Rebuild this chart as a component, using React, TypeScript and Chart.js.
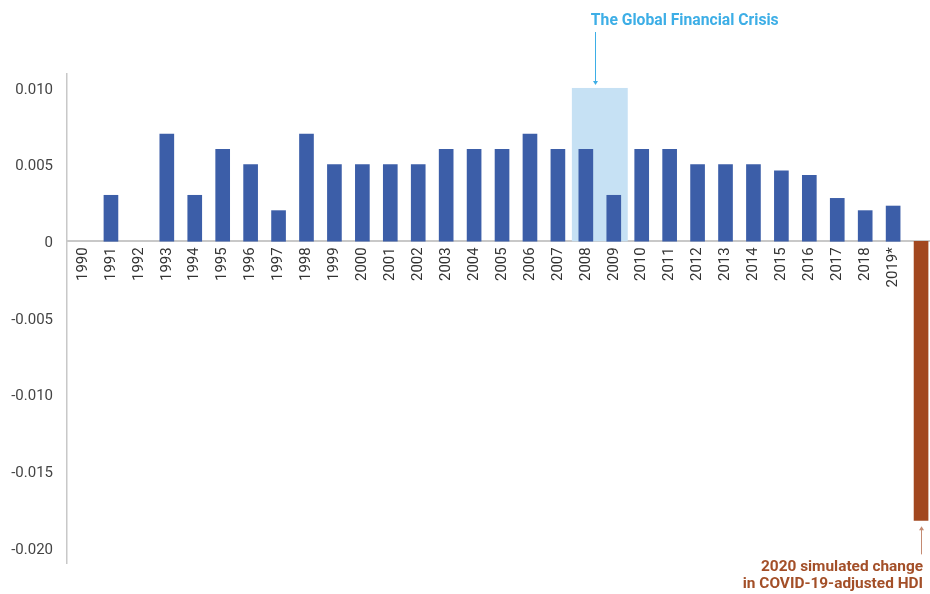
import React, { useEffect, useRef } from "react";
import { Chart, registerables } from "chart.js";

Chart.register(...registerables);

const YEARS: string[] = [
  "1990", "1991", "1992", "1993", "1994", "1995", "1996", "1997", "1998", "1999",
  "2000", "2001", "2002", "2003", "2004", "2005", "2006", "2007", "2008", "2009",
  "2010", "2011", "2012", "2013", "2014", "2015", "2016", "2017", "2018", "2019*", "2020",
];

const HDI_CHANGE: (number | null)[] = [
  null, 0.003, null, 0.007, 0.003, 0.006, 0.005, 0.002, 0.007, 0.005,
  0.005, 0.005, 0.005, 0.006, 0.006, 0.006, 0.007, 0.006, 0.006, 0.003,
  0.006, 0.006, 0.005, 0.005, 0.005, 0.0046, 0.0043, 0.0028, 0.002, 0.0023, -0.0182,
];

const Y_TICKS: number[] = [-0.02, -0.015, -0.01, -0.005, 0, 0.005, 0.01];
const Y_TICK_LABELS: string[] = ["-0.020", "-0.015", "-0.010", "-0.005", "0", "0.005", "0.010"];

const CRISIS_START = "2008";
const CRISIS_END = "2009";
const CRISIS_TOP = 0.01;
const CRISIS_LABEL = "The Global Financial Crisis";
const COVID_YEAR = "2020";
const COVID_LABEL: string[] = ["2020 simulated change", "in COVID-19-adjusted HDI"];

const BLUE = "#3c5ea8";
const BROWN = "#a2471f";

const annotationPlugin = {
  id: "annotations",
  beforeDatasetsDraw(chart: any) {
    const { ctx, scales } = chart;
    const x = scales.x;
    const y = scales.y;
    const i0 = YEARS.indexOf(CRISIS_START);
    const i1 = YEARS.indexOf(CRISIS_END);
    const left = x.getPixelForValue(i0 - 0.5);
    const right = x.getPixelForValue(i1 + 0.5);
    const top = y.getPixelForValue(CRISIS_TOP);
    const bottom = y.getPixelForValue(0);
    ctx.save();
    ctx.fillStyle = "#c6e1f4";
    ctx.fillRect(left, top, right - left, bottom - top);
    ctx.restore();
  },
  afterDraw(chart: any) {
    const { ctx, scales } = chart;
    const x = scales.x;
    const y = scales.y;
    const i0 = YEARS.indexOf(CRISIS_START);
    const left = x.getPixelForValue(i0 - 0.5);
    const top = y.getPixelForValue(CRISIS_TOP);

    ctx.save();
    // Crisis label
    ctx.font = "bold 15.7px Roboto";
    ctx.fillStyle = "#3daee6";
    ctx.textAlign = "left";
    ctx.textBaseline = "middle";
    ctx.fillText(CRISIS_LABEL, left + 19, 21);
    // Crisis arrow
    const ax = Math.round(left + 23) + 0.5;
    ctx.strokeStyle = "#3daee6";
    ctx.lineWidth = 1;
    ctx.beginPath();
    ctx.moveTo(ax, 32);
    ctx.lineTo(ax, top - 5);
    ctx.stroke();
    ctx.fillStyle = "#3daee6";
    ctx.beginPath();
    ctx.moveTo(ax - 2.5, top - 7);
    ctx.lineTo(ax + 2.5, top - 7);
    ctx.lineTo(ax, top - 3);
    ctx.closePath();
    ctx.fill();

    // COVID annotation
    const ci = YEARS.indexOf(COVID_YEAR);
    const bx = Math.round(x.getPixelForValue(ci)) + 0.5;
    const by = y.getPixelForValue(HDI_CHANGE[ci] as number);
    ctx.strokeStyle = "#c48a72";
    ctx.fillStyle = "#c48a72";
    ctx.beginPath();
    ctx.moveTo(bx, by + 34);
    ctx.lineTo(bx, by + 9);
    ctx.stroke();
    ctx.beginPath();
    ctx.moveTo(bx - 2.5, by + 10);
    ctx.lineTo(bx + 2.5, by + 10);
    ctx.lineTo(bx, by + 6);
    ctx.closePath();
    ctx.fill();

    ctx.font = "bold 15.4px Roboto";
    ctx.fillStyle = "#a34f28";
    ctx.textAlign = "right";
    ctx.textBaseline = "middle";
    const tx = chart.width - 7;
    ctx.fillText(COVID_LABEL[0], tx, by + 47);
    ctx.fillText(COVID_LABEL[1], tx, by + 64);
    ctx.restore();
  },
};

export default function App() {
  const canvasRef = useRef<HTMLCanvasElement | null>(null);

  useEffect(() => {
    if (!canvasRef.current) return;
    const points = YEARS.map((_, i) => ({ x: i, y: HDI_CHANGE[i] }));
    const colors = YEARS.map((yr) => (yr === COVID_YEAR ? BROWN : BLUE));
    const chart = new Chart(canvasRef.current, {
      type: "bar",
      data: {
        datasets: [
          {
            data: points as any,
            backgroundColor: colors,
            borderWidth: 0,
            barThickness: 14,
          },
        ],
      },
      plugins: [annotationPlugin],
      options: {
        animation: false,
        responsive: false,
        layout: { padding: { top: 74, bottom: 31, left: 0, right: 0 } },
        plugins: {
          legend: { display: false },
          tooltip: { enabled: false },
          title: { display: false },
        },
        scales: {
          x: {
            type: "linear",
            offset: false,
            position: { y: 0 } as any,
            min: -0.573,
            max: 30.32,
            z: 1,
            grid: { display: false, drawTicks: false, offset: false },
            border: { display: true, color: "#c8c8c8", width: 2 },
            afterBuildTicks: (scale: any) => {
              scale.ticks = YEARS.map((_, i) => ({ value: i }));
            },
            afterFit: (scale: any) => {
              scale.paddingLeft = 0;
              scale.paddingRight = 0;
            },
            ticks: {
              autoSkip: false,
              maxRotation: 90,
              minRotation: 90,
              padding: 6,
              color: (c: any) => (YEARS[c.index] === COVID_YEAR ? "#ecd2c2" : "#333333"),
              font: { family: "Roboto", size: 15 },
              callback: (v: any) => YEARS[v as number] ?? "",
            },
          },
          y: {
            type: "linear",
            position: "left",
            min: -0.02098,
            max: 0.01091,
            grid: { display: false, drawTicks: false },
            border: { display: true, color: "#c8c8c8", width: 1.5 },
            afterBuildTicks: (scale: any) => {
              scale.ticks = Y_TICKS.map((v) => ({ value: v }));
            },
            afterFit: (scale: any) => {
              scale.width = 67;
              scale.paddingTop = 0;
              scale.paddingBottom = 0;
            },
            ticks: {
              padding: 14,
              labelOffset: 2,
              color: "#444444",
              font: { family: "Roboto", size: 15 },
              callback: (v: any) => {
                const idx = Y_TICKS.findIndex((t) => Math.abs(t - v) < 1e-9);
                return idx >= 0 ? Y_TICK_LABELS[idx] : "";
              },
            },
          },
        },
      },
    } as any);
    return () => chart.destroy();
  }, []);

  return (
    <div style={{ position: "absolute", left: 0, top: 0, width: 930, height: 594, background: "#ffffff" }}>
      <canvas ref={canvasRef} width={930} height={594} style={{ display: "block" }} />
    </div>
  );
}
